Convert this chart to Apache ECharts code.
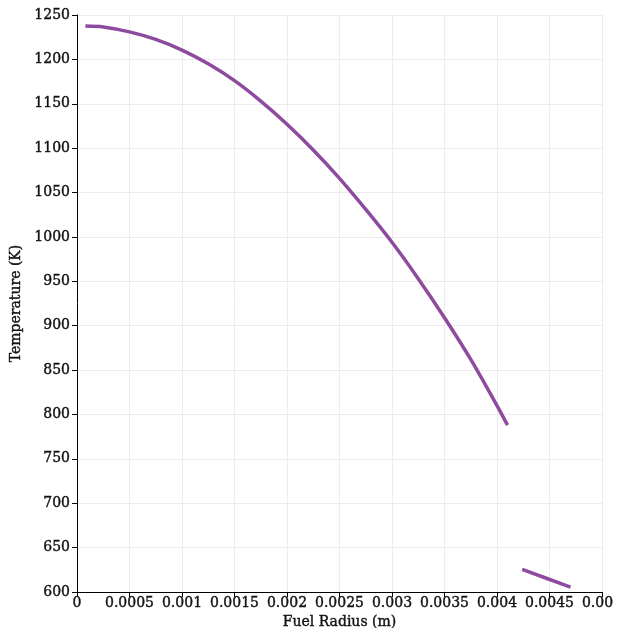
<!DOCTYPE html>
<html>
<head>
<meta charset="utf-8">
<script src="https://cdn.jsdelivr.net/npm/echarts@6/dist/echarts.min.js"></script>
<style>html,body{margin:0;padding:0;background:#fff;overflow:hidden}#c{width:614px;height:628px}</style>
</head>
<body>
<div id="c"></div>
<script>
// Fuel region (radius in m, temperature in K)
const fuelRadius = [0.00008, 0.00025, 0.0005, 0.00075, 0.001, 0.00125, 0.0015, 0.00175, 0.002, 0.00225, 0.0025, 0.00275, 0.003, 0.00325, 0.0035, 0.00375, 0.004, 0.0041];
const fuelTemp   = [1237.5, 1236.5, 1231, 1222.5, 1210.5, 1195, 1176, 1153, 1127, 1098, 1066, 1031, 994, 953, 909, 862, 810, 788];
// Cladding region
const cladRadius = [0.00424, 0.00447, 0.0047];
const cladTemp   = [625.5, 615.5, 605.5];

const xTickInterval = 0.0005;
const yTickInterval = 50;

const lineColor = '#8e4a9e';
const fontFamily = '"DejaVu Serif", serif';
const txt = {fontFamily, fontSize: 14, color: '#111', textBorderColor: '#111', textBorderWidth: 0.4};

const chart = echarts.init(document.getElementById('c'), null, {renderer: 'canvas'});
chart.setOption({
  animation: false,
  backgroundColor: '#fff',
  grid: {left: 77, right: 12, top: 15, bottom: 36, containLabel: false, outerBoundsMode: 'none'},
  xAxis: {
    type: 'value', min: 0, max: 0.005, interval: xTickInterval,
    name: 'Fuel Radius (m)', nameLocation: 'middle', nameGap: 18,
    nameTextStyle: Object.assign({}, txt),
    axisLine: {show: true, onZero: false, lineStyle: {color: '#000', width: 1}},
    axisTick: {show: true, length: 5, lineStyle: {color: '#000'}},
    axisLabel: Object.assign({margin: 4, formatter: v => String(+v.toPrecision(6))}, txt),
    splitLine: {show: true, lineStyle: {color: '#ececec', width: 1}}
  },
  yAxis: {
    type: 'value', min: 600, max: 1250, interval: yTickInterval,
    name: 'Temperature (K)', nameLocation: 'middle', nameGap: 42, nameRotate: 90,
    nameTextStyle: Object.assign({}, txt),
    axisLine: {show: true, lineStyle: {color: '#000', width: 1}},
    axisTick: {show: true, length: 5, lineStyle: {color: '#000'}},
    axisLabel: Object.assign({margin: 7, formatter: v => String(v)}, txt),
    splitLine: {show: true, lineStyle: {color: '#ececec', width: 1}}
  },
  series: [
    {type: 'line', data: fuelRadius.map((r, i) => [r, fuelTemp[i]]), smooth: 0.3, showSymbol: false,
     lineStyle: {color: lineColor, width: 3.5}},
    {type: 'line', data: cladRadius.map((r, i) => [r, cladTemp[i]]), showSymbol: false,
     lineStyle: {color: lineColor, width: 3.5}}
  ]
});
</script>
</body>
</html>
